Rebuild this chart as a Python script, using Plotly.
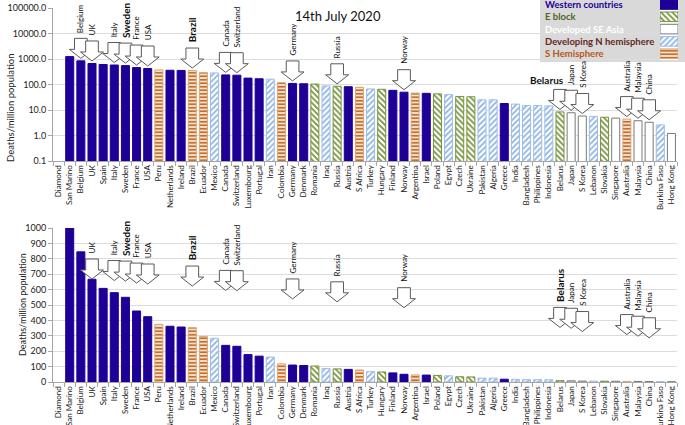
import math
import plotly.graph_objects as go

# ---------------- data ----------------
countries = ["Diamond", "San Marino", "Belgium", "UK", "Spain", "Italy", "Sweden", "France", "USA",
             "Peru", "Netherlands", "Ireland", "Brazil", "Ecuador", "Mexico", "Canada", "Switzerland",
             "Luxembourg", "Portugal", "Iran", "Colombia", "Germany", "Denmark", "Romania", "Iraq",
             "Russia", "Austria", "S Africa", "Turkey", "Hungary", "Finland", "Norway", "Argentina",
             "Israel", "Poland", "Egypt", "Czech", "Ukraine", "Pakistan", "Algeria", "Greece", "India",
             "Bangladesh", "Philippines", "Indonesia", "Belarus", "Japan", "S Korea", "Lebanon",
             "Slovakia", "Singapore", "Australia", "Malaysia", "China", "Burkina Faso", "Hong Kong"]

deaths_per_million = [None, 1240, 845, 667, 608, 580, 550, 461, 424,
                      374, 362, 357, 353, 296, 284, 238, 232,
                      178, 168, 162, 118, 110, 107, 104, 88,
                      85, 82, 78, 67, 65, 59, 50, 46,
                      45, 43, 40, 34, 33, 25, 25, 18, 17,
                      15, 15, 14.5, 8.4, 7.8, 5.8, 5.6,
                      5.2, 4.8, 4.4, 3.8, 3.3, 2.6, 1.2]

country_group = ["W", "W", "W", "W", "W", "W", "W", "W", "W",
                 "S", "W", "W", "S", "S", "N", "W", "W",
                 "W", "W", "N", "S", "W", "W", "E", "N",
                 "E", "W", "S", "N", "E", "W", "W", "S",
                 "W", "E", "N", "E", "E", "N", "N", "W", "N",
                 "N", "N", "N", "E", "A", "A", "N",
                 "E", "A", "S", "A", "A", "N", "A"]

group_codes = ["W", "E", "A", "N", "S"]
group_names = ["Western countries", "E block", "Developed SE Asia", "Developing N hemisphere", "S Hemisphere"]
group_text_colors = ["#1e0096", "#4f6228", "#ffffff", "#632523", "#b8561a"]

log_tick_vals = [0.1, 1, 10, 100, 1000, 10000, 100000]
log_tick_text = ["0.1", "1.0", "10.0", "100.0", "1000.0", "10000.0", "100000.0"]
lin_tick_vals = [0, 100, 200, 300, 400, 500, 600, 700, 800, 900, 1000]

arrow_top = ["Belgium", "UK", "Italy", "Sweden", "France", "USA", "Brazil", "Canada", "Switzerland",
             "Germany", "Russia", "Norway", "Belarus", "Japan", "S Korea", "Australia", "Malaysia", "China"]
arrow_bottom = [c for c in arrow_top if c != "Belgium"]
bold_labels = ["Sweden", "Brazil", "Belarus"]

title_text = "14th July 2020"
ytitle = "Deaths/million population"

# ---------------- styles ----------------
styles = {
    "W": dict(color="#1e0096", line=dict(color="#1e0096", width=1)),
    "E": dict(color="#ffffff", line=dict(color="#76923c", width=1),
              pattern=dict(shape="\\", fgcolor="#76923c", bgcolor="#ffffff", size=4, solidity=0.45, fillmode="replace")),
    "A": dict(color="#ffffff", line=dict(color="#7a7a7a", width=1)),
    "N": dict(color="#ffffff", line=dict(color="#9dbde6", width=1),
              pattern=dict(shape="/", fgcolor="#8db3e2", bgcolor="#ffffff", size=4, solidity=0.45, fillmode="replace")),
    "S": dict(color="#f4dcc4", line=dict(color="#dba677", width=1),
              pattern=dict(shape="-", fgcolor="#c0631c", bgcolor="#f6e2cf", size=3.5, solidity=0.45, fillmode="replace")),
}

W_PX, H_PX = 685, 425
PL, PR = 53, 677
TOP_T, TOP_B = 8, 161
BOT_T, BOT_B = 228, 382
FONT = "Lato, 'Liberation Sans', sans-serif"


def py(px):
    return 1 - px / H_PX


def top_px(v):
    return TOP_B - (math.log10(v) + 1) / 6 * (TOP_B - TOP_T)


fig = go.Figure()

for code in group_codes:
    ys = [v if g == code else None for v, g in zip(deaths_per_million, country_group)]
    for xa, ya in (("x", "y"), ("x2", "y2")):
        fig.add_trace(go.Bar(x=countries, y=ys, xaxis=xa, yaxis=ya, width=0.72,
                             marker=styles[code], showlegend=False, hoverinfo="x+y"))

# legend swatches (own small axes)
for i, code in enumerate(group_codes):
    fig.add_trace(go.Bar(x=[1], y=[i], orientation="h", xaxis="x3", yaxis="y3", width=0.78,
                         marker=styles[code], showlegend=False, hoverinfo="skip"))

axis_common = dict(showgrid=False, showline=True, linecolor="#a6a6a6", ticks="outside", tickcolor="#a6a6a6",
                   ticklen=4, tickson="boundaries", tickangle=-90, type="category",
                   categoryorder="array", categoryarray=countries, range=[-0.5, len(countries) - 0.5],
                   tickfont=dict(family=FONT, size=8, color="#222222"), automargin=False)
yaxis_common = dict(showgrid=True, gridcolor="#dcdcdc", showline=True, linecolor="#a6a6a6", ticks="outside",
                    tickcolor="#a6a6a6", ticklen=4, zeroline=False,
                    tickfont=dict(family=FONT, size=9, color="#222222"), automargin=False)

fig.update_layout(
    width=W_PX, height=H_PX, autosize=False,
    margin=dict(l=0, r=0, t=0, b=0),
    paper_bgcolor="white", plot_bgcolor="white",
    barmode="overlay", bargap=0.28,
    font=dict(family=FONT),
    xaxis=dict(axis_common, domain=[PL / W_PX, PR / W_PX], anchor="y"),
    yaxis=dict(yaxis_common, type="log", range=[-1, 5], domain=[py(TOP_B), py(TOP_T)], anchor="x",
               tickvals=log_tick_vals, ticktext=log_tick_text),
    xaxis2=dict(axis_common, domain=[PL / W_PX, PR / W_PX], anchor="y2"),
    yaxis2=dict(yaxis_common, range=[0, 1000], domain=[py(BOT_B), py(BOT_T)], anchor="x2",
                tickvals=lin_tick_vals),
    xaxis3=dict(domain=[660 / W_PX, 678 / W_PX], range=[0, 1], visible=False, anchor="y3", fixedrange=True),
    yaxis3=dict(domain=[py(60), 1], range=[(60 - 4.5) / 12.3, -4.5 / 12.3], visible=False, anchor="x3",
                fixedrange=True),
)

shapes = []
annotations = []

# legend box
shapes.append(dict(type="rect", xref="paper", yref="paper", x0=540 / W_PX, x1=1, y0=py(62), y1=1,
                   fillcolor="#d9d9d9", line=dict(width=0), layer="below"))
for i, (name, col) in enumerate(zip(group_names, group_text_colors)):
    annotations.append(dict(xref="paper", yref="paper", x=543 / W_PX, y=py(4.5 + 12.3 * i),
                            xanchor="left", yanchor="middle", showarrow=False,
                            text="<b>%s</b>" % name, font=dict(family=FONT, size=9.5, color=col)))

annotations.append(dict(xref="paper", yref="paper", x=338 / W_PX, y=py(16), showarrow=False,
                        text=title_text, font=dict(family=FONT, size=13, color="#111111"),
                        xanchor="center", yanchor="middle"))

annotations.append(dict(xref="paper", yref="paper", x=10 / W_PX, y=py(108), showarrow=False, textangle=-90,
                        text=ytitle, font=dict(family=FONT, size=9.5, color="#222222"),
                        xanchor="center", yanchor="middle"))
annotations.append(dict(xref="paper", yref="paper", x=22 / W_PX, y=py(305), showarrow=False, textangle=-90,
                        text=ytitle, font=dict(family=FONT, size=9, color="#222222"),
                        xanchor="center", yanchor="middle"))

SHAFT_HW, HEAD_HW = 0.57, 1.03
ARROW_LEN, HEAD_LEN, GAP, BOTTOM_SHIFT = 20, 9, 2.5, 218


def arrow_path(ix, tip_px):
    top = py(tip_px - ARROW_LEN)
    head = py(tip_px - HEAD_LEN)
    tip = py(tip_px)
    pts = [(ix - SHAFT_HW, top), (ix + SHAFT_HW, top), (ix + SHAFT_HW, head), (ix + HEAD_HW, head),
           (ix, tip), (ix - HEAD_HW, head), (ix - SHAFT_HW, head)]
    return "M " + " L ".join("%.4f,%.5f" % p for p in pts) + " Z"


def add_arrow(country, xref, shift, horizontal_label=False):
    ix = countries.index(country)
    v = deaths_per_million[ix]
    tip_px = top_px(v) - GAP + shift
    shapes.append(dict(type="path", xref=xref, yref="paper", path=arrow_path(ix, tip_px),
                       fillcolor="white", line=dict(color="#5a5a5a", width=1)))
    bold = country in bold_labels
    txt = "<b>%s</b>" % country if bold else country
    size = 10 if bold else 8
    if horizontal_label:
        annotations.append(dict(xref=xref, yref="paper", x=ix - 1.2, y=py(tip_px - ARROW_LEN - 1.5),
                                xanchor="center", yanchor="bottom", showarrow=False, text=txt,
                                font=dict(family=FONT, size=size, color="#111111")))
    else:
        annotations.append(dict(xref=xref, yref="paper", x=ix, y=py(tip_px - ARROW_LEN - 3.5),
                                xanchor="center", yanchor="bottom", showarrow=False, text=txt, textangle=-90,
                                font=dict(family=FONT, size=size, color="#111111")))


for c in arrow_top:
    add_arrow(c, "x", 0, horizontal_label=(c == "Belarus"))
for c in arrow_bottom:
    add_arrow(c, "x2", BOTTOM_SHIFT)

fig.update_layout(shapes=shapes, annotations=annotations)
fig.write_html("out.html")
